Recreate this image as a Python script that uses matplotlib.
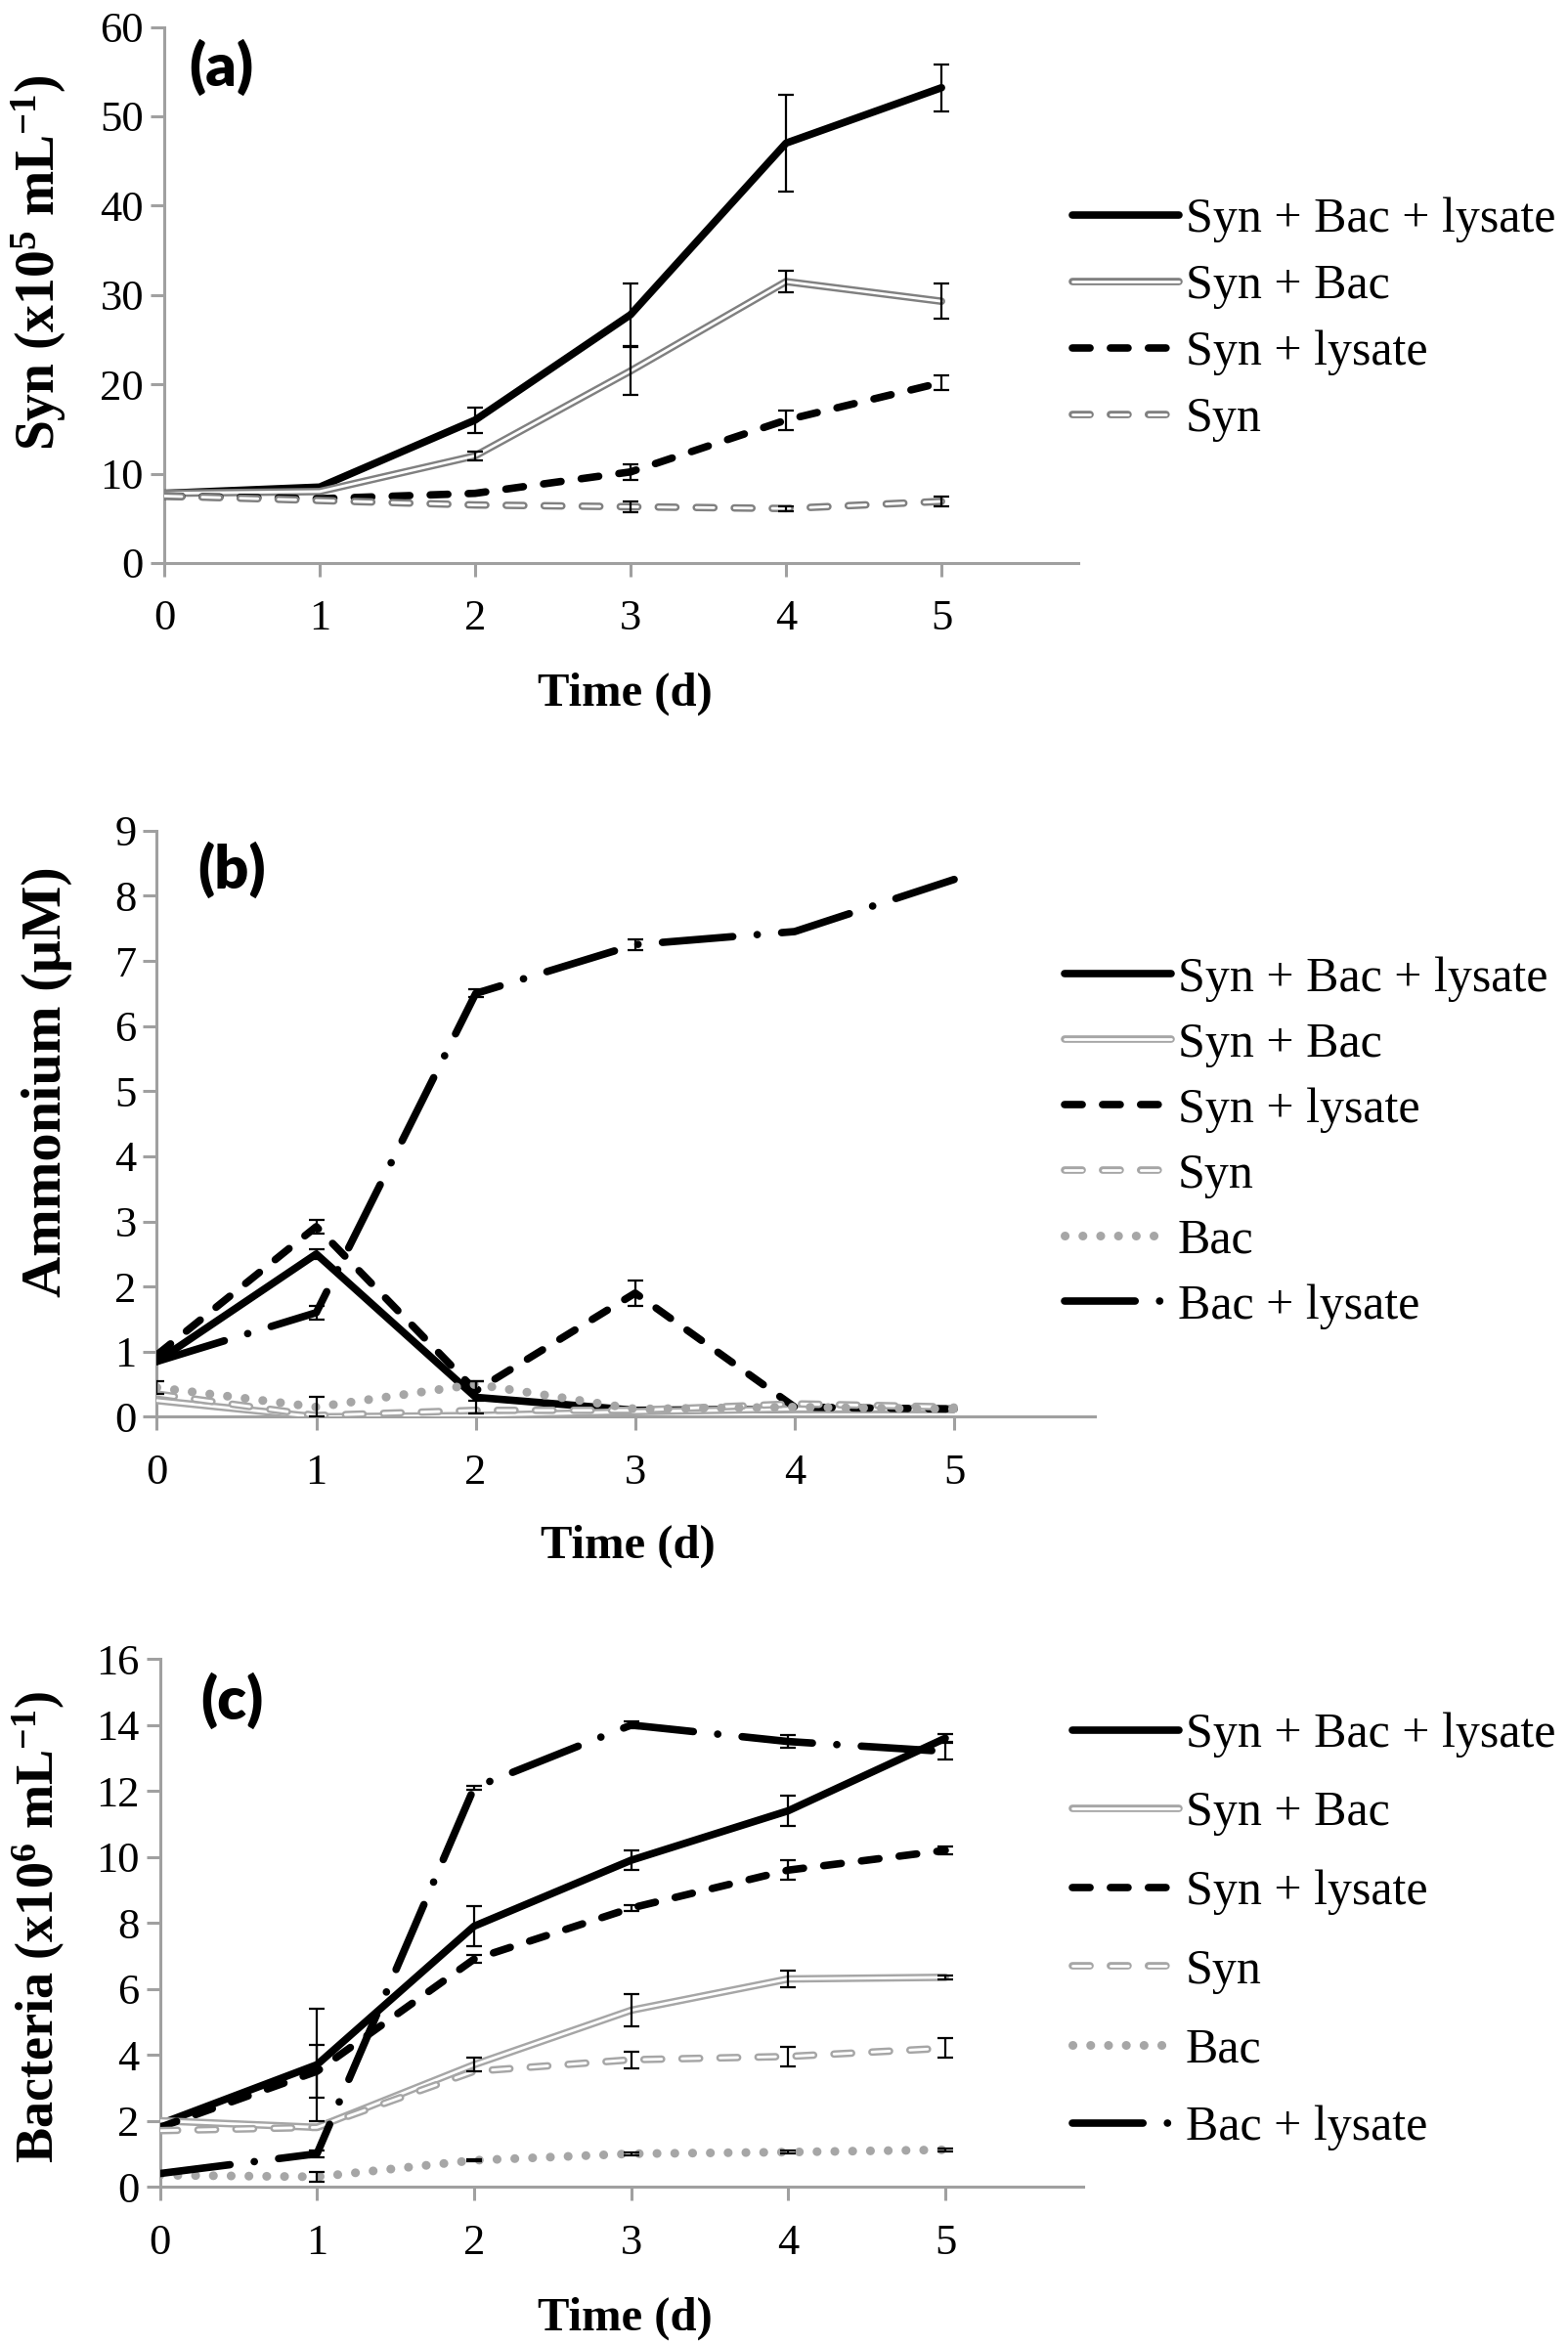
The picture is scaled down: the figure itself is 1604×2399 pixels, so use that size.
import numpy as np
import matplotlib
matplotlib.use("Agg")
import matplotlib.pyplot as plt
from matplotlib.lines import Line2D

plt.rcParams['font.family'] = 'serif'
plt.rcParams['font.serif'] = ['Liberation Serif', 'DejaVu Serif']
plt.rcParams['mathtext.fontset'] = 'custom'
plt.rcParams['mathtext.rm'] = 'Liberation Serif'
plt.rcParams['mathtext.bf'] = 'Liberation Serif:bold'
plt.rcParams['lines.scale_dashes'] = False

days = [0, 1, 2, 3, 4, 5]

# (a) Syn abundance (x10^5 mL-1)
a_syn_bac_lys = [7.8, 8.5, 16.0, 27.8, 47.0, 53.2]
a_syn_bac_lys_err = [0, 0, 1.4, 3.5, 5.4, 2.6]
a_syn_bac = [7.8, 8.0, 12.0, 21.5, 31.5, 29.3]
a_syn_bac_err = [0, 0, 0.5, 2.7, 1.2, 2.0]
a_syn_lys = [7.5, 7.2, 7.8, 10.2, 16.0, 20.2]
a_syn_lys_err = [0, 0, 0, 0.9, 1.1, 0.8]
a_syn = [7.5, 7.0, 6.5, 6.3, 6.1, 6.9]
a_syn_err = [0, 0, 0, 0.6, 0.3, 0.5]

# (b) Ammonium (uM)
b_syn_bac_lys = [0.85, 2.5, 0.3, 0.1, 0.12, 0.12]
b_syn_bac_lys_err = [0, 0.07, 0.25, 0, 0, 0]
b_syn_bac = [0.25, 0.0, 0.02, 0.08, 0.12, 0.12]
b_syn_bac_err = [0, 0, 0, 0, 0, 0]
b_syn_lys = [0.95, 2.92, 0.4, 1.9, 0.15, 0.12]
b_syn_lys_err = [0, 0.1, 0.15, 0.2, 0, 0]
b_syn = [0.35, 0.02, 0.1, 0.1, 0.2, 0.15]
b_syn_err = [0, 0, 0, 0, 0, 0]
b_bac = [0.45, 0.15, 0.5, 0.12, 0.15, 0.12]
b_bac_err = [0.1, 0.15, 0, 0, 0, 0]
b_bac_lys = [0.85, 1.6, 6.5, 7.25, 7.45, 8.25]
b_bac_lys_err = [0, 0.1, 0.06, 0.08, 0, 0]

# (c) Bacteria (x10^6 mL-1)
c_syn_bac_lys = [1.9, 3.7, 7.9, 9.9, 11.4, 13.6]
c_syn_bac_lys_err = [0, 1.7, 0.6, 0.3, 0.45, 0.12]
c_syn_bac = [2.0, 1.8, 3.7, 5.35, 6.3, 6.35]
c_syn_bac_err = [0, 0, 0.2, 0.5, 0.25, 0.05]
c_syn_lys = [1.8, 3.5, 6.9, 8.45, 9.6, 10.2]
c_syn_lys_err = [0, 0.8, 0.12, 0.1, 0.3, 0.12]
c_syn = [1.7, 1.8, 3.5, 3.85, 3.95, 4.2]
c_syn_err = [0, 0, 0, 0.25, 0.3, 0.3]
c_bac = [0.35, 0.3, 0.8, 1.0, 1.05, 1.12]
c_bac_err = [0, 0.15, 0.03, 0.05, 0.05, 0.05]
c_bac_lys = [0.4, 1.0, 12.1, 14.0, 13.5, 13.2]
c_bac_lys_err = [0, 0.1, 0.05, 0.1, 0.2, 0.25]

FS_TICK = 32
FS_LEG = 36
LW = 5.5
DASH = (13, 15)
DASHDOT = (52, 18, 0.1, 18)
DOT = (0.1, 13)


def styles(gray):
    # line layers per treatment (double lines = gray under white)
    return {
        'Syn + Bac + lysate': [dict(color='black', lw=LW, ls='-')],
        'Syn + Bac': [dict(color=gray, lw=LW, ls='-'), dict(color='white', lw=2, ls='-')],
        'Syn + lysate': [dict(color='black', lw=LW, ls=(0, DASH))],
        'Syn': [dict(color=gray, lw=LW, ls=(0, DASH)), dict(color='white', lw=2, ls=(0, DASH))],
        'Bac': [dict(color='#a6a6a6', lw=6.5, ls=(0, DOT))],
        'Bac + lysate': [dict(color='black', lw=LW, ls=(0, DASHDOT))],
    }


def draw(ax, series, gray, ylim, yticks, ylabel, ylab_fs, lab_xy, xlab_xy, leg_anchor, leg_space):
    st = styles(gray)
    handles = []
    for name, y, err in series:
        layers = st[name]
        for kw in layers:
            ax.plot(days, y, solid_capstyle='round', dash_capstyle='round',
                    solid_joinstyle='round', zorder=3, **kw)
        e = np.array(err, dtype=float)
        m = e > 0
        if m.any():
            ax.errorbar(np.array(days)[m], np.array(y)[m], yerr=e[m], fmt='none',
                        ecolor='black', elinewidth=1.6, capsize=6, capthick=1.6, zorder=4)
        hs = [Line2D([], [], solid_capstyle='round', dash_capstyle='round', **kw) for kw in layers]
        handles.append(tuple(hs) if len(hs) > 1 else hs[0])
    ax.set_xlim(0, 5.88)
    ax.set_ylim(*ylim)
    ax.set_xticks(days)
    ax.set_yticks(yticks)
    for s in ['top', 'right']:
        ax.spines[s].set_visible(False)
    for s in ['left', 'bottom']:
        ax.spines[s].set_color('#a0a0a0')
        ax.spines[s].set_linewidth(2.2)
    ax.tick_params(axis='both', colors='#a0a0a0', labelcolor='black', labelsize=FS_TICK,
                   width=2.2, length=10, direction='out')
    ax.tick_params(axis='x', pad=17)
    ax.tick_params(axis='y', pad=5)
    ax.set_ylabel(ylabel, fontsize=ylab_fs, fontweight='bold')
    ax.yaxis.set_label_coords(*lab_xy)
    ax.set_xlabel('Time (d)', fontsize=35, fontweight='bold')
    ax.xaxis.set_label_coords(*xlab_xy)
    names = [s[0] for s in series]
    ax.legend(handles, names, loc='center left', bbox_to_anchor=leg_anchor,
              bbox_transform=fig.transFigure, frameon=False, fontsize=FS_LEG,
              handlelength=2.18, handletextpad=0.14, borderpad=0, borderaxespad=0,
              labelspacing=leg_space)


fig = plt.figure(figsize=(16.04, 23.99), dpi=100)

ax_a = fig.add_axes([0.1047, 0.7599, 0.583, 0.2286])
draw(ax_a,
     [('Syn + Bac + lysate', a_syn_bac_lys, a_syn_bac_lys_err),
      ('Syn + Bac', a_syn_bac, a_syn_bac_err),
      ('Syn + lysate', a_syn_lys, a_syn_lys_err),
      ('Syn', a_syn, a_syn_err)],
     '#808080', (0, 60), range(0, 61, 10),
     r'Syn (x10$\mathbf{^{5}}$ mL$\mathbf{^{-1}}$)', 40,
     (-0.105, 0.56), (0.504, -0.204), (1097 / 1604, 1 - 327 / 2399), 0.43)

ax_b = fig.add_axes([0.100, 0.3958, 0.598, 0.25])
draw(ax_b,
     [('Syn + Bac + lysate', b_syn_bac_lys, b_syn_bac_lys_err),
      ('Syn + Bac', b_syn_bac, b_syn_bac_err),
      ('Syn + lysate', b_syn_lys, b_syn_lys_err),
      ('Syn', b_syn, b_syn_err),
      ('Bac', b_bac, b_bac_err),
      ('Bac + lysate', b_bac_lys, b_bac_lys_err)],
     '#a6a6a6', (0, 9), range(0, 10),
     'Ammonium (µM)', 42,
     (-0.09, 0.571), (0.503, -0.183), (1089 / 1604, 1 - 1169 / 2399), 0.41)

ax_c = fig.add_axes([0.102, 0.0675, 0.589, 0.225])
draw(ax_c,
     [('Syn + Bac + lysate', c_syn_bac_lys, c_syn_bac_lys_err),
      ('Syn + Bac', c_syn_bac, c_syn_bac_err),
      ('Syn + lysate', c_syn_lys, c_syn_lys_err),
      ('Syn', c_syn, c_syn_err),
      ('Bac', c_bac, c_bac_err),
      ('Bac + lysate', c_bac_lys, c_bac_lys_err)],
     '#a6a6a6', (0, 16), range(0, 17, 2),
     r'Bacteria (x10$\mathbf{^{6}}$ mL$\mathbf{^{-1}}$)', 39,
     (-0.1, 0.493), (0.504, -0.209), (1097 / 1604, 1 - 1976 / 2399), 0.68)

for txt, x, y in [('(a)', 226, 69), ('(b)', 237, 890), ('(c)', 237, 1740)]:
    fig.text(x / 1604, 1 - y / 2399, txt, fontsize=44, fontweight='heavy',
             family=['Lato', 'DejaVu Sans'], ha='center', va='center')

fig.savefig('out.png', dpi=100)
